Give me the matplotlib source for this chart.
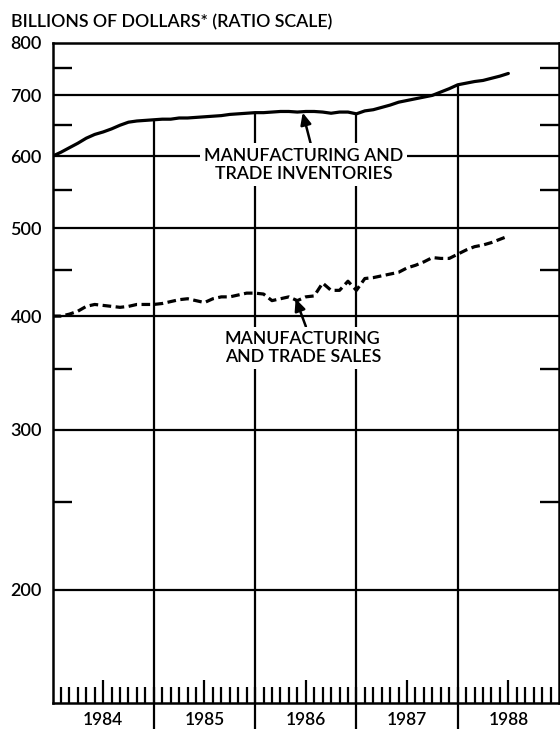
#!/usr/bin/env python3

import numpy as np
import matplotlib
matplotlib.use( 'Agg' )
import matplotlib.pyplot as plt
from matplotlib.ticker import FixedLocator, FixedFormatter, NullFormatter

plt.rcParams['font.family'] = ['Lato', 'DejaVu Sans']

# monthly data, Jan 1984 .. Jul 1988, billions of dollars
t0 = 1984
nMonths = 55
t = t0 + np.arange( nMonths ) / 12.0

inventories = [ 600, 606, 613, 620, 628, 634, 638, 643, 649, 654, 656, 657,
                658, 659, 659, 661, 661, 662, 663, 664, 665, 667, 668, 669,
                670, 670, 671, 672, 672, 671, 672, 672, 671, 669, 671, 671,
                668, 673, 675, 679, 683, 688, 691, 694, 697, 700, 706, 712,
                719, 722, 725, 727, 731, 735, 740 ]

sales = [ 400, 400, 402, 405, 410, 412, 411, 410, 409, 410, 412, 412,
          412, 413, 415, 417, 418, 416, 414, 418, 420, 420, 422, 424,
          424, 423, 416, 418, 420, 416, 420, 421, 435, 427, 427, 437,
          427, 440, 441, 443, 445, 447, 452, 455, 459, 464, 463, 463,
          468, 473, 477, 479, 482, 486, 490 ]

years      = [ 1984, 1985, 1986, 1987, 1988 ]
yearLabels = [ '1984', '1985', '1986', '1987', '1988' ]

yMajor  = [ 200, 300, 400, 500, 600, 700, 800 ]
yLabels = [ '200', '300', '400', '500', '600', '700', '800' ]
yMinor  = [ 250, 350, 450, 550, 650, 750 ]

fig = plt.figure( figsize = ( 5.6, 7.29 ), dpi = 100 )
ax = fig.add_axes( [ 52.5 / 560, 1 - 703 / 729, 506.5 / 560, 660.3 / 729 ] )

ax.set_yscale( 'log' )
ax.set_ylim( 150, 800 )
ax.set_xlim( years[0], years[-1] + 1 )

# horizontal grid
for v in yMajor[:-1]:
    ax.axhline( v, color = 'k', lw = 1.6, zorder = 1 )

# year dividers run from the bottom up to the inventories curve
iYear = [ 12 * ( y - t0 ) for y in years[1:] ]
ax.vlines( years[1:], 150, [ inventories[i] for i in iYear ],
           color = 'k', lw = 1.6, zorder = 1 )
ax.vlines( years[1:], -0.045, 0, transform = ax.get_xaxis_transform(),
           color = 'k', lw = 1.6, clip_on = False )

ax.plot( t, inventories, '-', color = 'k', lw = 2.3, zorder = 3,
         solid_capstyle = 'round' )
ax.plot( t, sales, color = 'k', lw = 2.3, dashes = ( 2.7, 1.4 ), zorder = 3 )

lblFont = dict( fontsize = 12.8, fontweight = 'semibold' )
box = dict( facecolor = 'white', edgecolor = 'none', pad = 3 )

ax.annotate( 'MANUFACTURING AND\nTRADE INVENTORIES',
             xy = ( 1986.47, 670 ), xytext = ( 1986.48, 587 ),
             ha = 'center', va = 'center', bbox = box, zorder = 2,
             arrowprops = dict( arrowstyle = '-|>,head_length=0.55,head_width=0.25',
                                color = 'k', lw = 1.8, relpos = ( 0.54, 1.0 ),
                                shrinkA = 0, shrinkB = 0 ),
             **lblFont )

ax.annotate( 'MANUFACTURING\nAND TRADE SALES',
             xy = ( 1986.40, 418 ), xytext = ( 1986.47, 369 ),
             ha = 'center', va = 'center', bbox = box, zorder = 2,
             arrowprops = dict( arrowstyle = '-|>,head_length=0.55,head_width=0.25',
                                color = 'k', lw = 1.8, relpos = ( 0.53, 1.0 ),
                                shrinkA = 0, shrinkB = 0 ),
             **lblFont )

# y axis: labelled gridline values, short inward ticks in between
ax.yaxis.set_major_locator( FixedLocator( yMajor ) )
ax.yaxis.set_major_formatter( FixedFormatter( yLabels ) )
ax.yaxis.set_minor_locator( FixedLocator( yMinor ) )
ax.yaxis.set_minor_formatter( NullFormatter() )
ax.tick_params( axis = 'y', which = 'major', length = 0, pad = 7.6,
                labelsize = 13 )
ax.tick_params( axis = 'y', which = 'minor', direction = 'in', length = 13.7,
                width = 1.7, left = True, right = True )

# x axis: month ticks, taller tick and year label at mid-year
ax.xaxis.set_major_locator( FixedLocator( [ y + 0.5 for y in years ] ) )
ax.xaxis.set_major_formatter( FixedFormatter( yearLabels ) )
ax.xaxis.set_minor_locator( FixedLocator( t0 + np.arange( 1, 60 ) / 12.0 ) )
ax.tick_params( axis = 'x', which = 'major', direction = 'in', length = 16.5,
                width = 1.6, pad = 6.5, labelsize = 12.5 )
ax.tick_params( axis = 'x', which = 'minor', direction = 'in', length = 11.5,
                width = 1.6 )
for lbl in ax.get_xticklabels() + ax.get_yticklabels():
    lbl.set_fontweight( 'semibold' )

for s in ax.spines.values():
    s.set_linewidth( 1.8 )

fig.text( 11 / 560, 1 - 22 / 729, 'BILLIONS OF DOLLARS* (RATIO SCALE)',
          va = 'center', ha = 'left', fontsize = 12.8, fontweight = 'semibold' )

plt.savefig( 'out.png', dpi = 100 )
plt.close()
